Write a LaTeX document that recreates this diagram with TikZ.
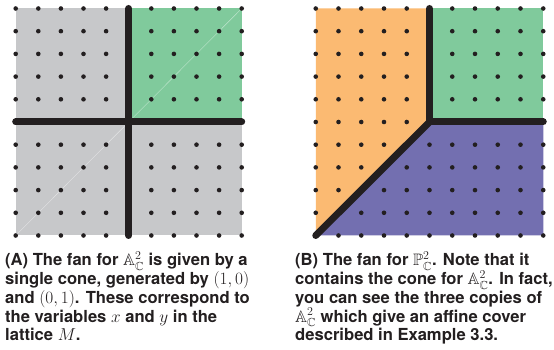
\documentclass[tikz,border=0pt]{standalone}
\usepackage{amssymb}
\usepackage{fontspec}
\setmainfont{TeX Gyre Heros}
\usepackage{xcolor}
\definecolor{fangray}{HTML}{C7C8CA}
\definecolor{conegreen}{HTML}{80CA9C}
\definecolor{coneorange}{HTML}{FBBA72}
\definecolor{conepurple}{HTML}{736FB0}
\definecolor{latticedot}{HTML}{231F20}

\tikzset{
  caption/.style={align=left, inner sep=0pt, text=latticedot,
    font=\fontsize{16.6}{18.75}\selectfont\bfseries},
  ray/.style={latticedot, line width=7pt, line cap=round, line join=round}
}

\begin{document}
\begin{tikzpicture}[x=1pt, y=1pt]
  \useasboundingbox (0,0) rectangle (554,350);

  % ==================== (A) FAN FOR THE AFFINE PLANE ====================
  \begin{scope}[shift={(128.7pt,228pt)}, x=22.6pt, y=22.7pt]
    % Lattice square and the single cone
    \fill[fangray] (-5,-5) rectangle (5,5);
    \fill[conegreen] (0,0) rectangle (5,5);
    \draw[white, opacity=0.5, line width=0.4pt] (-5,-5) -- (5,5);
    % Lattice points
    \foreach \i in {-5,...,5} {
      \foreach \j in {-5,...,5} {
        \fill[latticedot] (\i,\j) circle (2.3pt);
      }
    }
    % Rays
    \draw[ray] (0,-5) -- (0,5);
    \draw[ray] (-5,0) -- (5,0);
  \end{scope}

  % ==================== (B) FAN FOR THE PROJECTIVE PLANE ====================
  \begin{scope}[shift={(429.5pt,228pt)}, x=22.75pt, y=22.7pt]
    % Three cones
    \fill[coneorange] (-5,-5) -- (0,0) -- (0,5) -- (-5,5) -- cycle;
    \fill[conegreen] (0,0) rectangle (5,5);
    \fill[conepurple] (-5,-5) -- (5,-5) -- (5,0) -- (0,0) -- cycle;
    % Lattice points
    \foreach \i in {-5,...,5} {
      \foreach \j in {-5,...,5} {
        \fill[latticedot] (\i,\j) circle (2.3pt);
      }
    }
    % Rays
    \draw[ray] (0,5) -- (0,0) -- (5,0);
    \draw[ray] (0,0) -- (-5,-5);
  \end{scope}

  % ==================== CAPTIONS ====================
  % anchored on the baseline of the last line
  \node[caption, anchor=base west] (capA) at (5,9)
    {(A) The fan for $\mathbb{A}^2_{\mathbb{C}}$ is given by a\\
     single cone, generated by $(1,0)$\\
     and $(0,1)$. These correspond to\\
     the variables $x$ and $y$ in the\\
     lattice $M$.};
  \node[caption, anchor=base west] (capB) at (295,9)
    {(B) The fan for $\mathbb{P}^2_{\mathbb{C}}$. Note that it\\
     contains the cone for $\mathbb{A}^2_{\mathbb{C}}$. In fact,\\
     you can see the three copies of\\
     $\mathbb{A}^2_{\mathbb{C}}$ which give an affine cover\\
     described in Example 3.3.};

\end{tikzpicture}
\end{document}
